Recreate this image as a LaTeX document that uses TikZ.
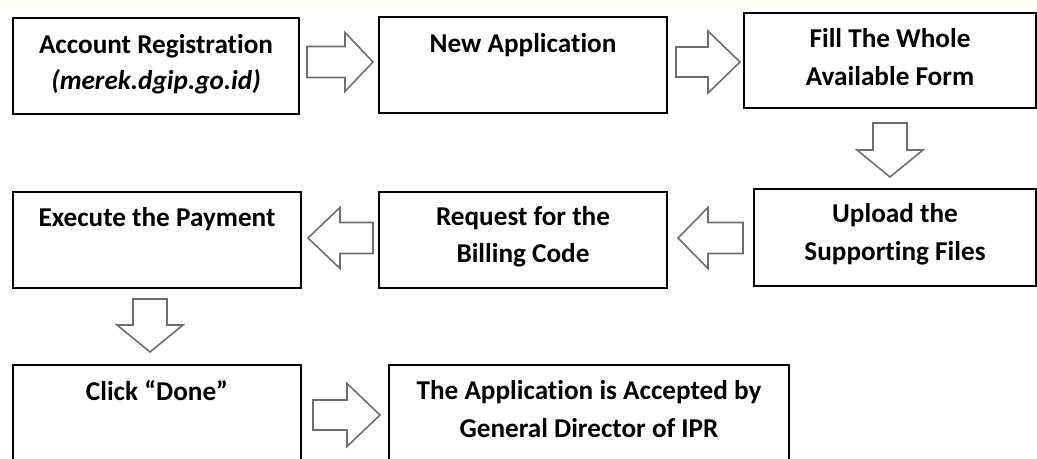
\documentclass[tikz,border=0pt]{standalone}
\usepackage{fontspec}
\setmainfont{Carlito}[Ligatures={NoCommon}]
\usetikzlibrary{calc}
\definecolor{strip}{HTML}{FCFCF1}
\definecolor{arrgray}{HTML}{6E6E6E}
\tikzset{
  box/.style={draw=black, line width=2bp, fill=white, inner sep=0pt, anchor=north west},
  lbl/.style={anchor=base, inner sep=0pt, font=\fontsize{27.2bp}{36bp}\selectfont\bfseries},
  arr/.style={draw=arrgray, line width=1.6bp, fill=white, line join=miter}
}
\newcommand\blockarr[5]{%
  \path ($(#2)!#5!(#1)$) coordinate (hb);
  \draw[arr] ($(#1)!#3!90:(#2)$) -- ($(hb)!#3!90:(#2)$) -- ($(hb)!#4!90:(#2)$) -- (#2)
     -- ($(hb)!#4!-90:(#2)$) -- ($(hb)!#3!-90:(#2)$) -- ($(#1)!#3!-90:(#2)$) -- cycle;}
\begin{document}
\begin{tikzpicture}[x=1bp,y=-1bp]
\useasboundingbox (0,0) rectangle (1037,459);
\fill[white] (0,0) rectangle (1037,459);
\fill[strip] (0,0) rectangle (1037,7);
\begin{scope}
\clip (0,0) rectangle (1037,459);
% boxes
\node[box, minimum width=286bp, minimum height=96bp] (b1) at (12,17) {};
\node[box, minimum width=288bp, minimum height=96bp] (b2) at (378,16) {};
\node[box, minimum width=292bp, minimum height=95bp] (b3) at (743,12) {};
\node[box, minimum width=282bp, minimum height=97bp] (b4) at (753,188) {};
\node[box, minimum width=288bp, minimum height=96bp] (b5) at (378,191) {};
\node[box, minimum width=288bp, minimum height=96bp] (b6) at (12,191) {};
\node[box, minimum width=288bp, minimum height=110bp] (b7) at (12,364) {};
\node[box, minimum width=400bp, minimum height=110bp] (b8) at (388,364) {};
\end{scope}
% labels
\node[lbl] (t1a) at ([yshift=-37bp]b1.north) {Account Registration};
\node[lbl] (t1b) at ([yshift=-73bp]b1.north) {\itshape(merek.dgip.go.id)};
\node[lbl] (t2) at ([yshift=-37bp]b2.north) {New Application};
\node[lbl] (t3a) at ([yshift=-36bp]b3.north) {Fill The Whole};
\node[lbl] (t3b) at ([yshift=-74bp]b3.north) {Available Form};
\node[lbl] (t4a) at ([yshift=-35bp]b4.north) {Upload the};
\node[lbl] (t4b) at ([yshift=-73bp]b4.north) {Supporting Files};
\node[lbl] (t5a) at ([yshift=-35bp]b5.north) {Request for the};
\node[lbl] (t5b) at ([yshift=-72bp]b5.north) {Billing Code};
\node[lbl] (t6) at ([yshift=-36bp]b6.north) {Execute the Payment};
\node[lbl] (t7) at ([yshift=-37bp]b7.north) {Click “Done”};
\node[lbl] (t8a) at ([yshift=-36bp]b8.north) {The Application is Accepted by};
\node[lbl] (t8b) at ([yshift=-73bp]b8.north) {General Director of IPR};
% arrow ends
\coordinate (a1s) at (307,62);  \coordinate (a1e) at (373,62);
\coordinate (a2s) at (676,62);  \coordinate (a2e) at (740,62);
\coordinate (a3s) at (890,123); \coordinate (a3e) at (890,177);
\coordinate (a4s) at (743,238); \coordinate (a4e) at (678,238);
\coordinate (a5s) at (373,238); \coordinate (a5e) at (308,238);
\coordinate (a6s) at (150,299); \coordinate (a6e) at (150,352);
\coordinate (a7s) at (313,415); \coordinate (a7e) at (380,415);
\blockarr{a1s}{a1e}{15.5bp}{29.5bp}{28bp}
\blockarr{a2s}{a2e}{15bp}{31bp}{32bp}
\blockarr{a3s}{a3e}{17bp}{33bp}{27bp}
\blockarr{a4s}{a4e}{15.5bp}{30.5bp}{30bp}
\blockarr{a5s}{a5e}{15.5bp}{30.5bp}{32bp}
\blockarr{a6s}{a6e}{17bp}{33bp}{27bp}
\blockarr{a7s}{a7e}{15bp}{31.5bp}{33bp}
\end{tikzpicture}
\end{document}
